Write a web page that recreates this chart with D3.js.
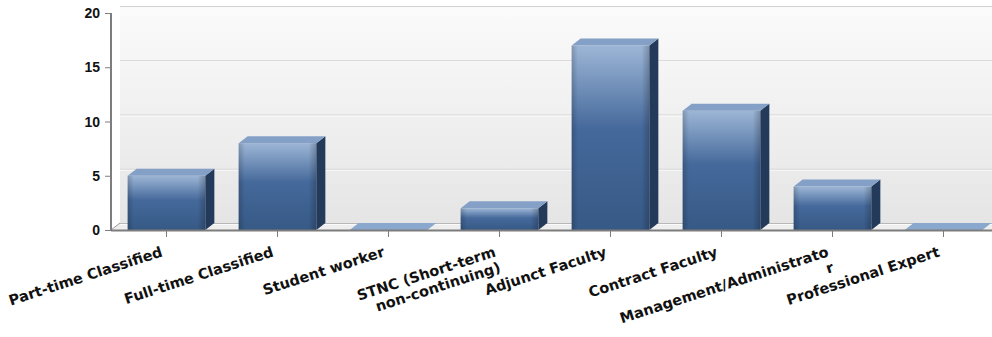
<!DOCTYPE html>
<html>
<head>
<meta charset="utf-8">
<script src="https://cdn.jsdelivr.net/npm/d3@7"></script>
<style>
  html, body { margin: 0; padding: 0; background: #fff; }
  svg { display: block; }
  text { font-weight: bold; fill: #111; }
</style>
</head>
<body>
<div id="chart"></div>
<script>
// chart data
const categories = [
    'Part-time Classified',
    'Full-time Classified',
    'Student worker',
    'STNC (Short-term non-continuing)',
    'Adjunct Faculty',
    'Contract Faculty',
    'Management/Administrator',
    'Professional Expert'
];
const counts = [5, 8, 0, 2, 17, 11, 4, 0];
// axis labels as wrapped on the picture
const tickLabels = [
    ['Part-time Classified'],
    ['Full-time Classified'],
    ['Student worker'],
    ['STNC (Short-term', 'non-continuing)'],
    ['Adjunct Faculty'],
    ['Contract Faculty'],
    ['Management/Administrato', 'r'],
    ['Professional Expert']
];
const yTicks = [0, 5, 10, 15, 20];

const width = 992;
const height = 337;
const plotLeft = 111, plotRight = 999, plotTop = 13, plotBottom = 230;
const depthX = 9, depthY = -7;

const svg = d3.select('#chart')
    .append('svg')
    .attr('width', width)
    .attr('height', height);

const defs = svg.append('defs');

const wallGrad = defs.append('linearGradient')
    .attr('id', 'wall').attr('x1', 0).attr('y1', 0).attr('x2', 0).attr('y2', 1);
wallGrad.append('stop').attr('offset', '0%').attr('stop-color', '#fbfbfb');
wallGrad.append('stop').attr('offset', '100%').attr('stop-color', '#e5e5e5');

const barGrad = defs.append('linearGradient')
    .attr('id', 'barFront').attr('x1', 0).attr('y1', 0).attr('x2', 0).attr('y2', 1);
barGrad.append('stop').attr('offset', '0%').attr('stop-color', '#9db6d6');
barGrad.append('stop').attr('offset', '45%').attr('stop-color', '#45699b');
barGrad.append('stop').attr('offset', '100%').attr('stop-color', '#365985');

const edgeGrad = defs.append('linearGradient')
    .attr('id', 'barEdge').attr('x1', 0).attr('y1', 0).attr('x2', 1).attr('y2', 0);
edgeGrad.append('stop').attr('offset', '0%').attr('stop-color', '#000').attr('stop-opacity', 0.18);
edgeGrad.append('stop').attr('offset', '8%').attr('stop-color', '#000').attr('stop-opacity', 0);
edgeGrad.append('stop').attr('offset', '90%').attr('stop-color', '#000').attr('stop-opacity', 0);
edgeGrad.append('stop').attr('offset', '100%').attr('stop-color', '#000').attr('stop-opacity', 0.22);

// scales
const x = d3.scaleBand()
    .domain(categories)
    .range([plotLeft, plotRight])
    .paddingInner(0.3)
    .paddingOuter(0.15);

const y = d3.scaleLinear()
    .domain([0, 20])
    .range([plotBottom, plotTop]);

// back wall + floor
svg.append('rect')
    .attr('x', plotLeft + depthX)
    .attr('y', y(20) + depthY)
    .attr('width', width - plotLeft - depthX)
    .attr('height', y(0) - y(20))
    .attr('fill', 'url(#wall)');

svg.append('path')
    .attr('d', `M${plotLeft},${y(0)} L${plotLeft + depthX},${y(0) + depthY} L${width},${y(0) + depthY} L${width},${y(0)} Z`)
    .attr('fill', '#eeeeee');

// gridlines on the back wall
const grid = svg.append('g');
yTicks.forEach(v => {
    grid.append('line')
        .attr('x1', plotLeft + depthX).attr('x2', width)
        .attr('y1', y(v) + depthY + 0.5).attr('y2', y(v) + depthY + 0.5)
        .attr('stroke', v === 0 ? '#b8b8b8' : '#d2d2d2');
    grid.append('line')
        .attr('x1', plotLeft + depthX).attr('x2', width)
        .attr('y1', y(v) + depthY + 1.5).attr('y2', y(v) + depthY + 1.5)
        .attr('stroke', '#fafafa');
});
svg.append('line')
    .attr('x1', plotLeft).attr('y1', y(0))
    .attr('x2', plotLeft + depthX).attr('y2', y(0) + depthY)
    .attr('stroke', '#999');

// bars
const bars = svg.append('g').selectAll('g')
    .data(categories.map((c, i) => ({ name: c, value: counts[i] })))
    .enter().append('g');

bars.filter(d => d.value > 0).append('rect')
    .attr('x', d => x(d.name))
    .attr('y', d => y(d.value))
    .attr('width', x.bandwidth())
    .attr('height', d => y(0) - y(d.value))
    .attr('fill', 'url(#barFront)');

bars.filter(d => d.value > 0).append('rect')
    .attr('x', d => x(d.name))
    .attr('y', d => y(d.value))
    .attr('width', x.bandwidth())
    .attr('height', d => y(0) - y(d.value))
    .attr('fill', 'url(#barEdge)');

bars.filter(d => d.value > 0).append('path')
    .attr('d', d => {
        const x1 = x(d.name) + x.bandwidth();
        const yt = y(d.value), yb = y(0);
        return `M${x1},${yt} L${x1 + depthX},${yt + depthY} L${x1 + depthX},${yb + depthY} L${x1},${yb} Z`;
    })
    .attr('fill', '#243a5a');

bars.append('path')
    .attr('d', d => {
        const x0 = x(d.name), x1 = x0 + x.bandwidth();
        const yt = y(d.value);
        return `M${x0},${yt} L${x0 + depthX},${yt + depthY} L${x1 + depthX},${yt + depthY} L${x1},${yt} Z`;
    })
    .attr('fill', d => d.value > 0 ? '#84a0c6' : '#8aa8cd');

// axes
const axisColor = '#7d7d7d';
svg.append('line')
    .attr('x1', plotLeft).attr('x2', plotLeft)
    .attr('y1', y(20)).attr('y2', y(0) + 1)
    .attr('stroke', axisColor).attr('stroke-width', 2);
svg.append('line')
    .attr('x1', plotLeft).attr('x2', width)
    .attr('y1', y(0) + 0.5).attr('y2', y(0) + 0.5)
    .attr('stroke', axisColor).attr('stroke-width', 2);

const yAxis = svg.append('g');
yTicks.forEach(v => {
    yAxis.append('line')
        .attr('x1', plotLeft - 6).attr('x2', plotLeft)
        .attr('y1', y(v) + 0.5).attr('y2', y(v) + 0.5)
        .attr('stroke', axisColor);
    yAxis.append('text')
        .attr('x', plotLeft - 11)
        .attr('y', y(v))
        .attr('dy', '0.36em')
        .attr('text-anchor', 'end')
        .attr('font-family', '"Liberation Sans", Arial, sans-serif')
        .attr('font-size', 14)
        .text(v);
});

const xAxis = svg.append('g');
categories.forEach((c, i) => {
    const cx = x(c) + x.bandwidth() / 2;
    xAxis.append('line')
        .attr('x1', cx).attr('x2', cx)
        .attr('y1', y(0) + 1).attr('y2', y(0) + 7)
        .attr('stroke', axisColor);
    const t = xAxis.append('text')
        .attr('text-anchor', 'end')
        .attr('font-family', '"DejaVu Sans", Verdana, sans-serif')
        .attr('font-size', 14.5)
        .attr('transform', `translate(${cx - 3},${y(0) + 26}) rotate(-18)`);
    tickLabels[i].forEach((line, k) => {
        t.append('tspan')
            .attr('x', 0)
            .attr('dy', k === 0 ? 0 : '1.12em')
            .text(line);
    });
});
</script>
</body>
</html>
